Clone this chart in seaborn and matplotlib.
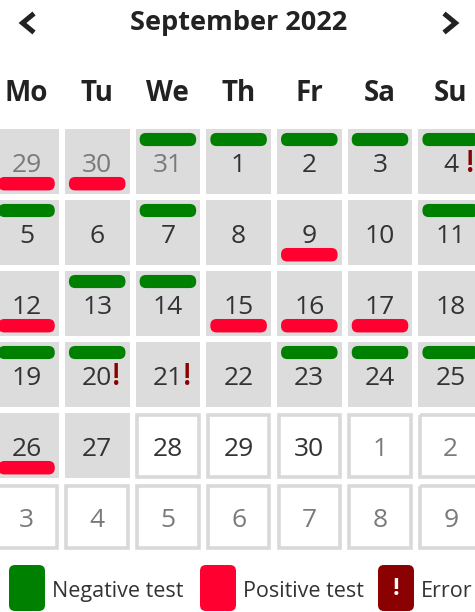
import matplotlib
matplotlib.use("Agg")
import matplotlib.pyplot as plt
from matplotlib.colors import ListedColormap
from matplotlib.patches import FancyBboxPatch, Rectangle
import numpy as np
import pandas as pd
import seaborn as sns

sns.set_theme(style="white")
plt.rcParams["font.family"] = ["Open Sans", "DejaVu Sans"]

# calendar data
title = "September 2022"
weekdays = ["Mo", "Tu", "We", "Th", "Fr", "Sa", "Su"]
grid_start = "2022-08-29"
month_no = 9
last_shaded = "2022-09-27"
negative_days = ["2022-08-31", "2022-09-01", "2022-09-02", "2022-09-03", "2022-09-04",
                 "2022-09-05", "2022-09-07", "2022-09-11", "2022-09-13", "2022-09-14",
                 "2022-09-19", "2022-09-20", "2022-09-23", "2022-09-24", "2022-09-25"]
positive_days = ["2022-08-29", "2022-08-30", "2022-09-09", "2022-09-12", "2022-09-15",
                 "2022-09-16", "2022-09-17", "2022-09-26"]
error_days = ["2022-09-04", "2022-09-20", "2022-09-21"]
legend_labels = ["Negative test", "Positive test", "Error"]

GREEN = "#008000"
RED = "#ff0030"
DARKRED = "#8b0000"
CELL = "#dcdcdc"
BORDER = "#d9d9d9"
DARK = "#333333"
GREY = "#7a7a7a"

dates = pd.date_range(grid_start, periods=42, freq="D")
shaded = np.asarray(dates <= pd.Timestamp(last_shaded), dtype=int).reshape(6, 7)
neg = set(pd.to_datetime(negative_days))
pos = set(pd.to_datetime(positive_days))
err = set(pd.to_datetime(error_days))

fig = plt.figure(figsize=(4.75, 6.12), dpi=100)
W, H = 475, 612

# background axes in pixel units (header, legend)
bg = fig.add_axes([0, 0, 1, 1])
bg.set_xlim(0, W)
bg.set_ylim(H, 0)
bg.axis("off")

# calendar grid axes
px, py = 70.7, 71.0
left, top = -8.85, 126.2
cal = fig.add_axes([left / W, 1 - (top + 6 * py) / H, 7 * px / W, 6 * py / H])
sns.heatmap(shaded, ax=cal, cmap=ListedColormap(["white", CELL]), cbar=False,
            linewidths=4.1, linecolor="white", xticklabels=False, yticklabels=False,
            vmin=0, vmax=1)
cal.axis("off")

for i, d in enumerate(dates):
    r, c = divmod(i, 7)
    if not shaded[r, c]:
        cal.add_patch(Rectangle((c + 0.065, r + 0.065), 0.87, 0.87, fill=False,
                                edgecolor=BORDER, lw=2.6))
    if d in neg:
        cal.add_patch(FancyBboxPatch((c + 0.1, r + 0.095), 0.8, 0.185,
                                     boxstyle="round,pad=0,rounding_size=0.09",
                                     fc=GREEN, ec="none"))
    if d in pos:
        cal.add_patch(FancyBboxPatch((c + 0.1, r + 0.715), 0.8, 0.19,
                                     boxstyle="round,pad=0,rounding_size=0.09",
                                     fc=RED, ec="none"))
    col = DARK if d.month == month_no else GREY
    cal.text(c + 0.5, r + 0.645, str(d.day), ha="center", va="baseline",
             fontsize=19, color=col)
    if d in err:
        cal.text(c + 0.71, r + 0.645, "!", ha="left", va="baseline",
                 fontsize=22, fontweight="semibold", color=DARKRED)

for c, name in enumerate(weekdays):
    cal.text(c + 0.5, (101 - top) / py, name, ha="center", va="baseline",
             fontsize=20, fontweight="bold", color="#222222")

# header
bg.text(239, 30, title, ha="center", va="baseline", fontsize=19.5,
        fontweight="bold", color="#222222")
bg.plot([34, 22.5, 34], [13.5, 23, 32.5], color="#222222", lw=3.6,
        solid_capstyle="butt", solid_joinstyle="miter")
bg.plot([444, 455.5, 444], [13.5, 23, 32.5], color="#222222", lw=3.6,
        solid_capstyle="butt", solid_joinstyle="miter")

# legend
legend_x = [9, 200, 378]
legend_col = [GREEN, RED, DARKRED]
for x, lab, fc in zip(legend_x, legend_labels, legend_col):
    bg.add_patch(FancyBboxPatch((x, 565), 36, 46,
                                boxstyle="round,pad=0,rounding_size=6",
                                fc=fc, ec="none"))
    bg.text(x + 43, 597, lab, ha="left", va="baseline", fontsize=15.5, color=DARK)
bg.text(378 + 18, 589, "!", ha="center", va="center", fontsize=17,
        fontweight="bold", color="white")

fig.savefig("out.png", dpi=100)
